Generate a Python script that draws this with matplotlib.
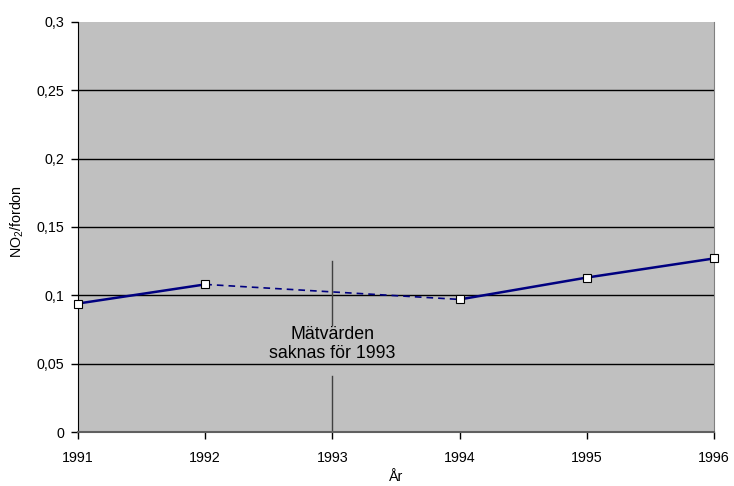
import matplotlib
matplotlib.use("Agg")
import matplotlib.pyplot as plt

plt.rcParams['font.family'] = ['Liberation Sans', 'DejaVu Sans']
plt.rcParams['mathtext.fontset'] = 'custom'
plt.rcParams['mathtext.rm'] = 'Liberation Sans'
plt.rcParams['mathtext.it'] = 'Liberation Sans'

years = [1991, 1992, 1994, 1995, 1996]
no2_per_vehicle = [0.094, 0.108, 0.097, 0.113, 0.127]
x_ticks = [1991, 1992, 1993, 1994, 1995, 1996]
y_ticks = [0, 0.05, 0.1, 0.15, 0.2, 0.25, 0.3]
y_tick_labels = ['0', '0,05', '0,1', '0,15', '0,2', '0,25', '0,3']

fig = plt.figure(figsize=(7.34, 4.86), dpi=100)
ax = fig.add_axes([78/734, 1 - 432/486, 636/734, 410/486])
ax.set_facecolor('#c0c0c0')
ax.set_xlim(1991, 1996)
ax.set_ylim(0, 0.3)

for yv in y_ticks[1:-1]:
    ax.axhline(yv, color='black', lw=1.0, zorder=1)

# measured segments (solid) and gap year bridged with a dashed line
navy = '#000080'
ax.plot(years[:2], no2_per_vehicle[:2], color=navy, lw=1.8, zorder=3)
ax.plot(years[1:3], no2_per_vehicle[1:3], color=navy, lw=1.2, ls=(0, (4, 3)), zorder=3)
ax.plot(years[2:], no2_per_vehicle[2:], color=navy, lw=1.8, zorder=3)
ax.plot(years, no2_per_vehicle, ls='none', marker='s', ms=5.5,
        mfc='white', mec='black', mew=0.8, zorder=5, clip_on=False)

# marker for the missing year
ax.plot([1993, 1993], [0.078, 0.125], color='#404040', lw=1.0, zorder=2)
ax.plot([1993, 1993], [0.0, 0.041], color='#404040', lw=1.0, zorder=2)
ax.text(1993, 0.0645, 'Mätvärden\nsaknas för 1993', ha='center', va='center',
        fontsize=12.8, linespacing=1.2, zorder=4)

ax.set_xticks(x_ticks)
ax.set_xticklabels([str(y) for y in x_ticks], fontsize=10.3)
ax.set_yticks(y_ticks)
ax.set_yticklabels(y_tick_labels, fontsize=10.3)
ax.tick_params(axis='both', direction='out', length=5, width=1, color='black')
ax.tick_params(axis='x', pad=9)
ax.tick_params(axis='y', pad=5)

ax.spines['top'].set_visible(False)
ax.spines['left'].set_color('black')
ax.spines['bottom'].set_color('#606060')
ax.spines['bottom'].set_linewidth(1.5)
ax.spines['right'].set_color('#808080')

fig.text(396/734, 1 - 477/486, 'År', ha='center', va='center', fontsize=10.3)
fig.text(17/734, 1 - 222/486, 'NO$_2$/fordon', ha='center', va='center',
         rotation=90, fontsize=10.3)

fig.savefig('out.png', dpi=100)
